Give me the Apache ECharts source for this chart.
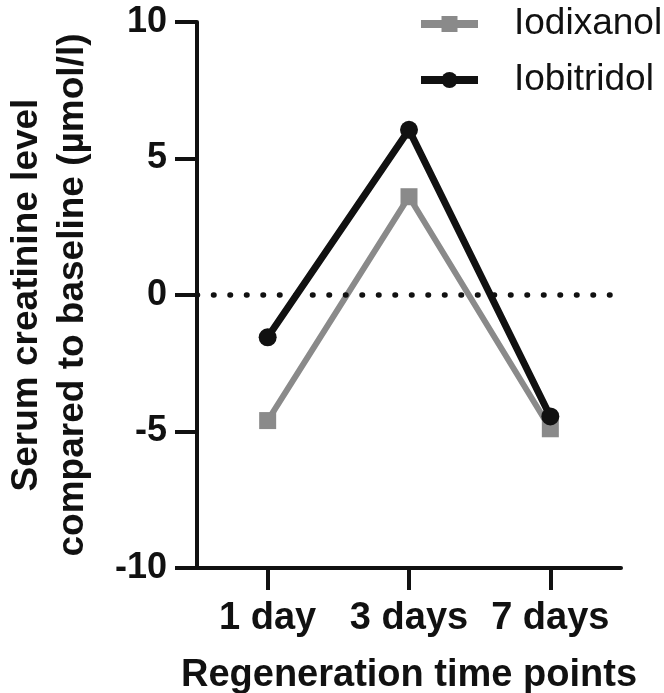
<!DOCTYPE html>
<html>
<head>
<meta charset="utf-8">
<script src="https://cdn.jsdelivr.net/npm/echarts@6/dist/echarts.min.js"></script>
<style>
  html, body { margin: 0; padding: 0; background: #fff; }
  #show { width: 664px; height: 693px; }
</style>
</head>
<body>
<div id="show"></div>
<script>
    var categories = ['1 day', '3 days', '7 days'];
    var iodixanol = [-4.6, 3.6, -4.9];
    var iobitridol = [-1.55, 6.05, -4.45];
    var yTicks = [-10, -5, 0, 5, 10];

    var myChart = echarts.init(document.getElementById('show'));
    var font = 'Liberation Sans, Arial, sans-serif';

    var option = {
        animation: false,
        grid: { left: 197, right: 43, top: 22, bottom: 125, outerBoundsMode: 'none', containLabel: false },
        legend: {
            orient: 'vertical',
            left: 417,
            top: 3,
            padding: 0,
            itemWidth: 57,
            itemHeight: 20,
            itemGap: 14,
            lineStyle: { width: 8 },
            textStyle: {
                fontFamily: font,
                fontSize: 37,
                lineHeight: 42,
                color: '#111',
                padding: [0, 0, 0, 31]
            },
            data: ['Iodixanol', 'Iobitridol']
        },
        xAxis: {
            type: 'category',
            data: categories,
            boundaryGap: true,
            name: 'Regeneration time points',
            nameLocation: 'middle',
            nameGap: 89,
            nameTextStyle: { fontFamily: font, fontSize: 38, fontWeight: 'bold', color: '#111' },
            axisLine: { onZero: false, lineStyle: { color: '#111', width: 4 } },
            axisTick: { show: true, interval: 0, alignWithLabel: true, length: 22, lineStyle: { color: '#111', width: 4 } },
            axisLabel: { interval: 0, fontFamily: font, fontSize: 38, fontWeight: 'bold', color: '#111', margin: 32 }
        },
        yAxis: {
            type: 'value',
            min: yTicks[0],
            max: yTicks[yTicks.length - 1],
            interval: 5,
            name: 'Serum creatinine level\ncompared to baseline (µmol/l)',
            nameLocation: 'middle',
            nameGap: 101,
            nameTextStyle: { fontFamily: font, fontSize: 37, fontWeight: 'bold', color: '#111', lineHeight: 46 },
            splitLine: { show: false },
            axisLine: { show: true, lineStyle: { color: '#111', width: 4 } },
            axisTick: { show: true, length: 22, lineStyle: { color: '#111', width: 4 } },
            axisLabel: { fontFamily: font, fontSize: 36, fontWeight: 'bold', color: '#111', margin: 30 }
        },
        series: [
            {
                name: 'Iodixanol',
                type: 'line',
                data: iodixanol,
                symbol: 'rect',
                symbolSize: 17,
                lineStyle: { color: '#8a8a8a', width: 6 },
                itemStyle: { color: '#8a8a8a' },
                // dotted baseline at 0
                markLine: {
                    silent: true,
                    symbol: 'none',
                    label: { show: false },
                    lineStyle: { color: '#111', width: 5.5, type: [0.5, 16], cap: 'round', dashOffset: 0, opacity: 1 },
                    emphasis: { disabled: true },
                    data: [{ yAxis: 0 }]
                },
                z: 2
            },
            {
                name: 'Iobitridol',
                type: 'line',
                data: iobitridol,
                symbol: 'circle',
                symbolSize: 18,
                lineStyle: { color: '#111', width: 7 },
                itemStyle: { color: '#111' },
                z: 3
            }
        ]
    };
    myChart.setOption(option);
</script>
</body>
</html>
